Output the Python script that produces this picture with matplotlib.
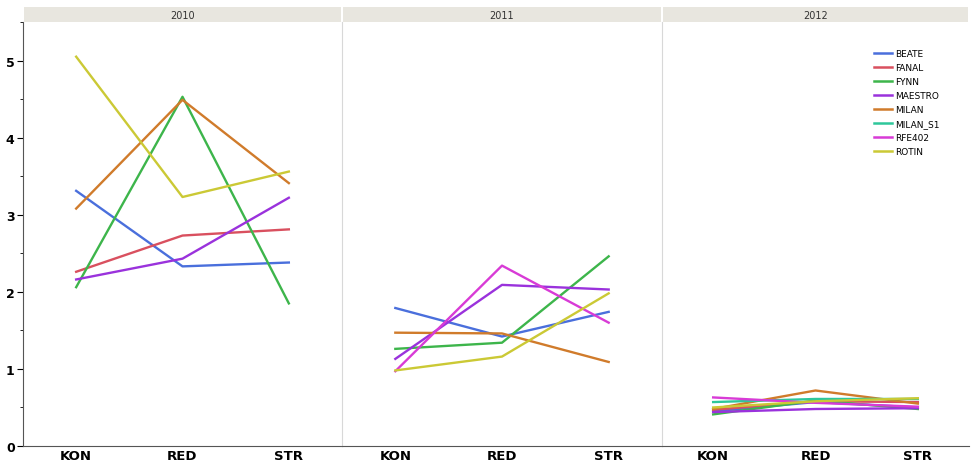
import matplotlib.pyplot as plt
from matplotlib.ticker import MultipleLocator

years = ["2010", "2011", "2012"]
sites = ["KON", "RED", "STR"]
varieties = ["BEATE", "FANAL", "FYNN", "MAESTRO", "MILAN", "MILAN_S1", "RFE402", "ROTIN"]
colors = ["#4a6fdc", "#d9505f", "#3db54b", "#9a32dc", "#d07b2b", "#2ec79a", "#d83bd6", "#cbc935"]

# values per year, per variety: KON, RED, STR (None = not grown that year)
values_2010 = {
    "BEATE": [3.31, 2.33, 2.38],
    "FANAL": [2.26, 2.73, 2.81],
    "FYNN": [2.06, 4.53, 1.85],
    "MAESTRO": [2.16, 2.43, 3.22],
    "MILAN": [3.08, 4.49, 3.41],
    "MILAN_S1": None,
    "RFE402": None,
    "ROTIN": [5.05, 3.23, 3.56],
}
values_2011 = {
    "BEATE": [1.79, 1.42, 1.74],
    "FANAL": None,
    "FYNN": [1.26, 1.34, 2.46],
    "MAESTRO": [1.13, 2.09, 2.03],
    "MILAN": [1.47, 1.46, 1.09],
    "MILAN_S1": None,
    "RFE402": [0.97, 2.34, 1.60],
    "ROTIN": [0.98, 1.16, 1.98],
}
values_2012 = {
    "BEATE": [0.45, 0.57, 0.50],
    "FANAL": [0.47, 0.58, 0.57],
    "FYNN": [0.41, 0.59, 0.48],
    "MAESTRO": [0.44, 0.48, 0.49],
    "MILAN": [0.48, 0.72, 0.55],
    "MILAN_S1": [0.57, 0.61, 0.61],
    "RFE402": [0.63, 0.56, 0.51],
    "ROTIN": [0.50, 0.58, 0.62],
}
all_values = [values_2010, values_2011, values_2012]

W, H = 971, 464
fig = plt.figure(figsize=(W / 100, H / 100), dpi=100)

panel_edges = [23, 342, 662, 969]
bottom_px, top_px, strip_top = 447, 23, 8
axes = []
for i, year in enumerate(years):
    x0, x1 = panel_edges[i], panel_edges[i + 1]
    ax = fig.add_axes([x0 / W, 1 - bottom_px / H, (x1 - x0) / W, (bottom_px - top_px) / H])
    strip = fig.add_axes([(x0 + 1) / W, 1 - top_px / H, (x1 - x0 - 2) / W, (top_px - strip_top) / H])
    strip.set_facecolor("#e8e6df")
    strip.set_xticks([])
    strip.set_yticks([])
    for s in strip.spines.values():
        s.set_visible(False)
    strip.text(0.5, 0.45, year, ha="center", va="center", fontsize=7, color="#333333",
               transform=strip.transAxes)

    for name, color in zip(varieties, colors):
        vals = all_values[i][name]
        if vals is None:
            continue
        ax.plot(range(len(sites)), vals, color=color, linewidth=1.7, label=name)

    ax.set_xlim(-0.5, 2.5)
    ax.set_ylim(0, 5.5)
    ax.set_xticks(range(len(sites)))
    ax.set_xticklabels(sites, fontsize=9.5, fontweight="bold")
    ax.tick_params(axis="x", length=0, pad=2)
    ax.spines["top"].set_visible(False)
    ax.spines["right"].set_visible(False)
    ax.spines["bottom"].set_color("#555555")
    if i == 0:
        ax.spines["left"].set_color("#555555")
        ax.yaxis.set_major_locator(MultipleLocator(1))
        ax.yaxis.set_minor_locator(MultipleLocator(0.5))
        ax.tick_params(axis="y", which="major", length=4, labelsize=9, pad=2)
        ax.tick_params(axis="y", which="minor", length=2)
        for lbl in ax.get_yticklabels():
            lbl.set_fontweight("bold")
    else:
        ax.spines["left"].set_color("#d8d8d8")
        ax.set_yticks([])
    axes.append(ax)

handles = [plt.Line2D([], [], color=c, linewidth=1.8) for c in colors]
axes[2].legend(handles, varieties, loc="upper right", bbox_to_anchor=(0.93, 0.955), frameon=False,
               fontsize=6.5, handlelength=2.0, handletextpad=0.3, labelspacing=0.55)

fig.savefig("out.png", dpi=100)
